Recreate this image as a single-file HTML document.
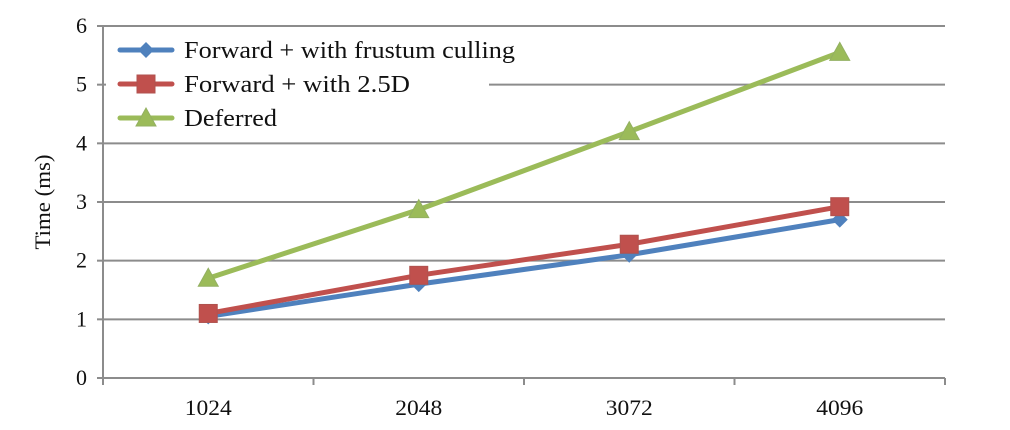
<!DOCTYPE html>
<html><head><meta charset="utf-8"><style>
html,body{margin:0;padding:0;background:#fff;}
svg{display:block;font-family:"Liberation Serif",serif;}
</style></head><body>
<svg id="chart" width="1010" height="430" viewBox="0 0 1010 430" xmlns="http://www.w3.org/2000/svg">
<g id="grid"></g>
<g id="axes"></g>
<g id="series"></g>
<rect x="106" y="32" width="383" height="108" fill="#fff"/>
<g id="legend"></g>
<text transform="translate(50,202) rotate(-90)" text-anchor="middle" font-size="22" textLength="95" lengthAdjust="spacingAndGlyphs" fill="#111">Time (ms)</text>
</svg>
<script>
const categories = ["1024","2048","3072","4096"];
const frustumValues = [1.05, 1.6, 2.1, 2.7];
const twoFiveDValues = [1.1, 1.75, 2.28, 2.92];
const deferredValues = [1.7, 2.87, 4.2, 5.55];
const yTicks = [0,1,2,3,4,5,6];
const seriesNames = ["Forward + with frustum culling","Forward + with 2.5D","Deferred"];

const NS="http://www.w3.org/2000/svg";
const X0=103, X1=945, Y0=378, Y6=26;
const yMax=6;
function yScale(v){return Y0-(v/yMax)*(Y0-Y6);}
function xScale(i){const w=(X1-X0)/categories.length;return X0+w*(i+0.5);}
function mk(tag,attrs,parent){const e=document.createElementNS(NS,tag);for(const k in attrs)e.setAttribute(k,attrs[k]);parent.appendChild(e);return e;}

const grid=document.getElementById('grid'), axes=document.getElementById('axes');
yTicks.forEach(t=>{
  const y=yScale(t);
  if(t>0){const l=mk('line',{x1:X0,x2:X1,y1:y,y2:y,stroke:'#8c8c8c','stroke-width':2},grid);
  
  }
  const tk=mk('line',{x1:X0-6,x2:X0,y1:y,y2:y,stroke:'#8c8c8c','stroke-width':2},axes);
  
  
  const tx=mk('text',{x:X0-16,y:y+7,'text-anchor':'end','font-size':22,fill:'#111'},axes);
  tx.textContent=t;
  
  
});
const ya=mk('line',{x1:X0,x2:X0,y1:Y6-1,y2:Y0,stroke:'#8c8c8c','stroke-width':2},axes);


const xa=mk('line',{x1:X0-6,x2:X1,y1:Y0,y2:Y0,stroke:'#8c8c8c','stroke-width':2},axes);


for(let i=0;i<=categories.length;i++){
  const x=X0+(X1-X0)/categories.length*i;
  const tk=mk('line',{x1:x,x2:x,y1:Y0,y2:Y0+7,stroke:'#8c8c8c','stroke-width':2},axes);
  
  
}
categories.forEach((c,i)=>{
  const tx=mk('text',{x:xScale(i),y:Y0+37,'text-anchor':'middle','font-size':22,textLength:47,lengthAdjust:'spacingAndGlyphs',fill:'#111'},axes);
  tx.textContent=c;
  
  
});

function marker(shape,x,y,color,parent){
  let m;
  if(shape==='diamond') m=mk('polygon',{points:`${x},${y-8} ${x+8},${y} ${x},${y+8} ${x-8},${y}`,fill:color},parent);
  else if(shape==='square') m=mk('rect',{x:x-9,y:y-9,width:18,height:18,fill:color,stroke:'#b0524f','stroke-width':1},parent);
  else m=mk('polygon',{points:`${x},${y-10} ${x+10},${y+8} ${x-10},${y+8}`,fill:color,stroke:'#93b062','stroke-width':1},parent);
  return m;
}
const sg=document.getElementById('series');
const defs=[
  {vals:frustumValues,color:'#4f81bd',shape:'diamond',key:'frustum',w:331},
  {vals:twoFiveDValues,color:'#c0504d',shape:'square',key:'2-5d',w:226},
  {vals:deferredValues,color:'#9bbb59',shape:'triangle',key:'deferred',w:93}
];
defs.forEach(s=>{
  const pts=s.vals.map((v,i)=>xScale(i)+','+yScale(v)).join(' ');
  const pl=mk('polyline',{points:pts,fill:'none',stroke:s.color,'stroke-width':5,'stroke-linejoin':'round','stroke-linecap':'round'},sg);
  
  
  s.vals.forEach((v,i)=>{
    const m=marker(s.shape,xScale(i),yScale(v),s.color,sg);
    
    
  });
});
const lg=document.getElementById('legend');
defs.forEach((s,i)=>{
  const y=50+i*34;
  const l=mk('line',{x1:120,x2:172,y1:y,y2:y,stroke:s.color,'stroke-width':5,'stroke-linecap':'round'},lg);
  
  
  const m=marker(s.shape,146,y,s.color,lg);
  
  
  const t=mk('text',{x:184,y:y+8,'font-size':24,textLength:s.w,lengthAdjust:'spacingAndGlyphs',fill:'#111'},lg);
  t.textContent=seriesNames[i];
  
  
});
</script>
</body></html>
